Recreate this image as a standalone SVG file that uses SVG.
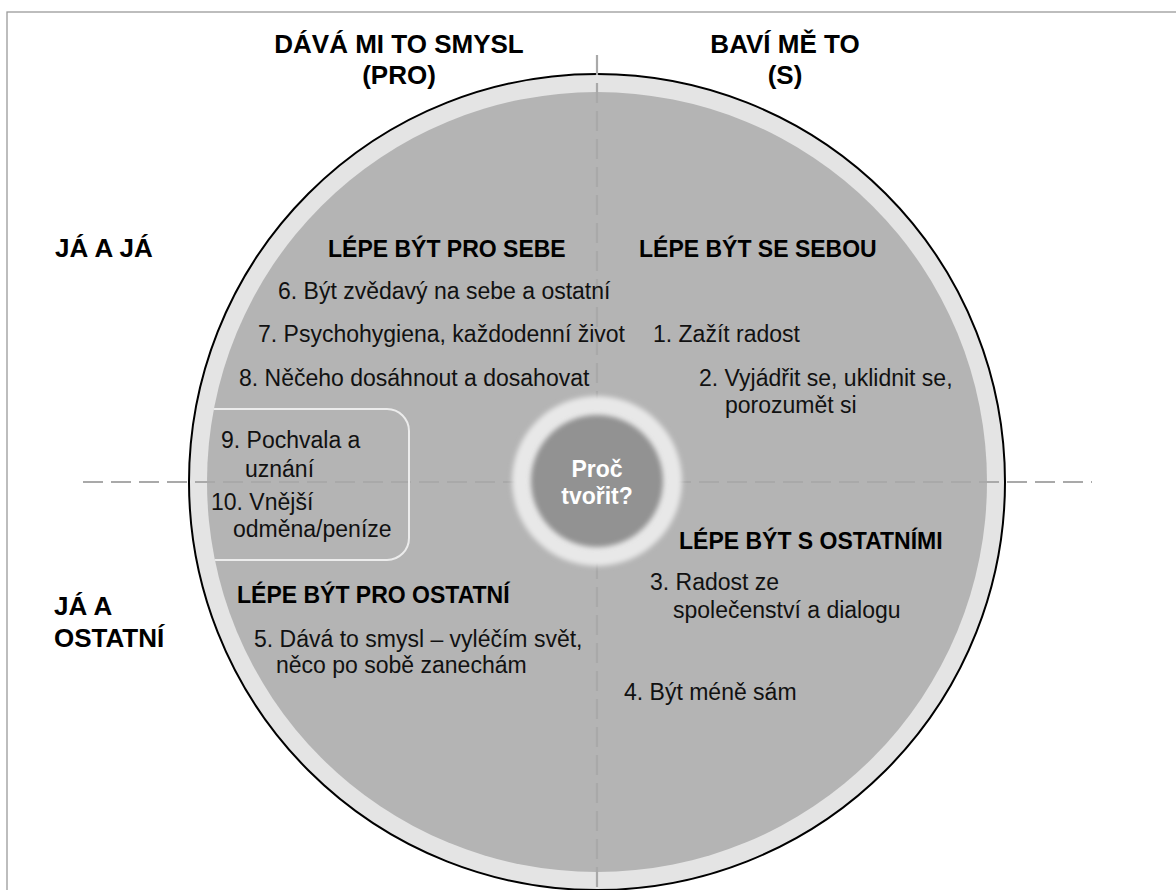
<svg xmlns="http://www.w3.org/2000/svg" width="1176" height="890" viewBox="0 0 1176 890">
  <defs>
    <style>
      text { font-family: "Liberation Sans", Arial, sans-serif; fill: #000; }
      .axis { font-size: 26px; font-weight: bold; }
      .head { font-size: 23px; font-weight: bold; }
      .item { font-size: 23px; fill: #111; }
      .core { font-size: 23px; font-weight: bold; fill: #fff; text-anchor: middle; }
      .dash { stroke: #a9a9a9; stroke-width: 2.2; fill: none; stroke-dasharray: 20 8; }
    </style>
    <clipPath id="disc">
      <circle cx="597" cy="482" r="390"/>
    </clipPath>
    <filter id="soft" x="-20%" y="-20%" width="140%" height="140%">
      <feGaussianBlur stdDeviation="2.5"/>
    </filter>
  </defs>

  <rect width="1176" height="890" fill="#fff"/>

  <!-- frame: only the top and left edges fall inside the sheet -->
  <g id="frame">
    <rect x="7" y="12" width="1200" height="920" fill="none" stroke="#9a9a9a" stroke-width="1.3"/>
  </g>

  <!-- main disc: light rim and grey field -->
  <g id="disc-group">
    <circle cx="597" cy="482" r="408" fill="#e4e4e4" stroke="#000" stroke-width="2"/>
    <circle cx="597" cy="482" r="390" fill="#b4b4b4"/>
  </g>

  <!-- dividing axes -->
  <g id="connectors">
    <line class="dash" x1="83" y1="482" x2="1092" y2="482"/>
    <line class="dash" x1="597" y1="55" x2="597" y2="890"/>
  </g>

  <!-- quadrant: better to be for oneself -->
  <g id="q-pro-sebe">
    <text class="head" x="328" y="257">LÉPE BÝT PRO SEBE</text>
    <text class="item" x="278" y="299">6. Být zvědavý na sebe a ostatní</text>
    <text class="item" x="258" y="342">7. Psychohygiena, každodenní život</text>
    <text class="item" x="239" y="386">8. Něčeho dosáhnout a dosahovat</text>
  </g>

  <!-- boxed external motives -->
  <g id="external">
    <path d="M150 409 H387 A22 22 0 0 1 409 431 V538 A22 22 0 0 1 387 560 H150" fill="none" stroke="#ececec" stroke-width="2" clip-path="url(#disc)"/>
    <text class="item" x="221" y="448">9. Pochvala a</text>
    <text class="item" x="245" y="477">uznání</text>
    <text class="item" x="211" y="510">10. Vnější</text>
    <text class="item" x="233" y="537">odměna/peníze</text>
  </g>

  <!-- quadrant: better to be with oneself -->
  <g id="q-se-sebou">
    <text class="head" x="639" y="257">LÉPE BÝT SE SEBOU</text>
    <text class="item" x="653" y="342">1. Zažít radost</text>
    <text class="item" x="699" y="386">2. Vyjádřit se, uklidnit se,</text>
    <text class="item" x="725" y="413">porozumět si</text>
  </g>

  <!-- quadrant: better to be with others -->
  <g id="q-s-ostatnimi">
    <text class="head" x="679" y="549">LÉPE BÝT S OSTATNÍMI</text>
    <text class="item" x="650" y="590">3. Radost ze</text>
    <text class="item" x="673" y="618">společenství a dialogu</text>
    <text class="item" x="624" y="700">4. Být méně sám</text>
  </g>

  <!-- quadrant: better to be for others -->
  <g id="q-pro-ostatni">
    <text class="head" x="237" y="603">LÉPE BÝT PRO OSTATNÍ</text>
    <text class="item" x="254" y="647">5. Dává to smysl – vyléčím svět,</text>
    <text class="item" x="276" y="673">něco po sobě zanechám</text>
  </g>

  <!-- centre hub -->
  <g id="centre">
    <circle cx="597" cy="481" r="85" fill="#e8e8e8" filter="url(#soft)"/>
    <circle cx="597" cy="481" r="66" fill="#929292" filter="url(#soft)"/>
    <text class="core" x="597" y="477">Proč</text>
    <text class="core" x="597" y="504">tvořit?</text>
  </g>

  <!-- axis captions -->
  <g id="axis-labels">
    <text class="axis" x="399" y="53" text-anchor="middle">DÁVÁ MI TO SMYSL</text>
    <text class="axis" x="399" y="84" text-anchor="middle">(PRO)</text>
    <text class="axis" x="785" y="53" text-anchor="middle">BAVÍ MĚ TO</text>
    <text class="axis" x="785" y="84" text-anchor="middle">(S)</text>
    <text class="axis" x="55" y="257">JÁ A JÁ</text>
    <text class="axis" x="54" y="615">JÁ A</text>
    <text class="axis" x="54" y="647">OSTATNÍ</text>
  </g>
</svg>
